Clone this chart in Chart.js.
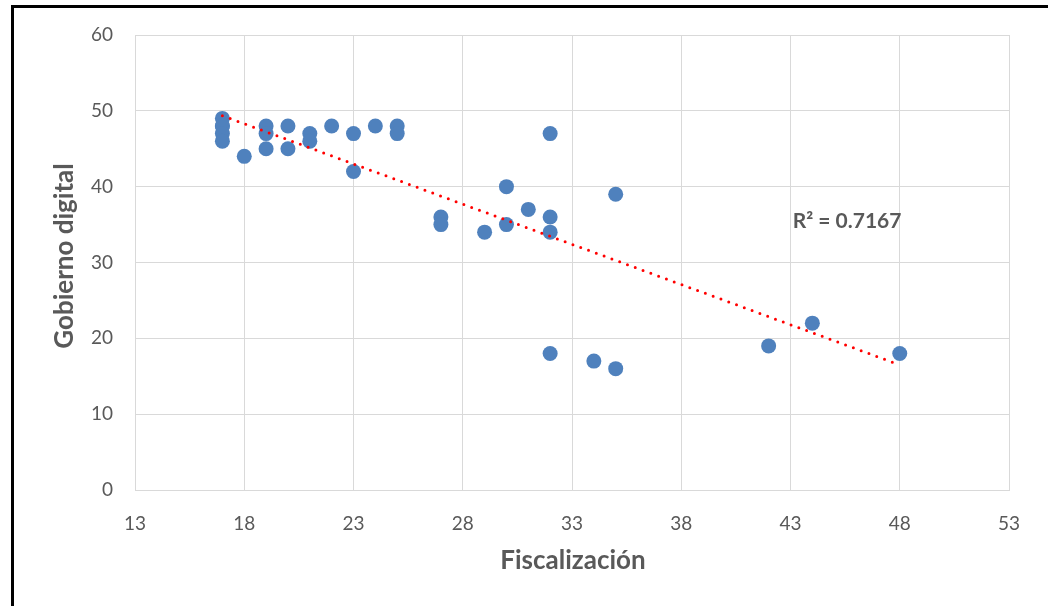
<!DOCTYPE html>
<html>
<head>
<meta charset="utf-8">
<script src="https://cdn.jsdelivr.net/npm/chart.js@4"></script>
<style>
    html, body { margin: 0; padding: 0; background: #fff; }
    #wrap { position: relative; width: 1048px; height: 606px; }
</style>
</head>
<body>
<div id="wrap"><canvas id="chart" width="1048" height="606"></canvas></div>
<script>
// Fiscalización (x) vs Gobierno digital (y)
const fiscalizacion = [17, 17, 17, 17, 17, 18, 19, 19, 19, 20, 20, 21, 21, 22, 23, 23, 24, 25, 25,
    27, 27, 29, 30, 30, 31, 32, 32, 32, 32, 34, 35, 35, 42, 44, 48];
const gobiernoDigital = [49, 48, 48, 47, 46, 44, 48, 47, 45, 48, 45, 47, 46, 48, 47, 42, 48, 48, 47,
    36, 35, 34, 40, 35, 37, 47, 36, 34, 18, 17, 39, 16, 19, 22, 18];

// linear trendline ends
const trendX = [17, 48];
const trendY = [49.36, 16.5];
const rSquared = 'R² = 0.7167';

const xTicks = [13, 18, 23, 28, 33, 38, 43, 48, 53];
const yTicks = [0, 10, 20, 30, 40, 50, 60];

const textColor = '#595959';
const gridColor = '#d9d9d9';
const fontFamily = 'Lato, "Open Sans", sans-serif';

const pts = fiscalizacion.map((x, i) => ({ x: x, y: gobiernoDigital[i] }));
const trend = trendX.map((x, i) => ({ x: x, y: trendY[i] }));

// white background + black frame lines (top & left) + axis titles + R² label
const extras = {
    id: 'extras',
    beforeDraw(chart) {
        const c = chart.ctx;
        c.save();
        c.fillStyle = '#fff';
        c.fillRect(0, 0, chart.width, chart.height);
        c.fillStyle = '#000';
        c.fillRect(11, 5, chart.width - 11, 3);
        c.fillRect(11, 5, 3, chart.height - 5);
        c.restore();
    },
    afterDraw(chart) {
        const c = chart.ctx;
        const xs = chart.scales.x, ys = chart.scales.y;
        c.save();
        c.fillStyle = textColor;
        c.font = 'bold 26px ' + fontFamily;
        c.textAlign = 'center';
        c.textBaseline = 'middle';
        c.fillText('Fiscalización', 573, 561);
        c.translate(65, 256);
        c.rotate(-Math.PI / 2);
        c.fillText('Gobierno digital', 0, 0);
        c.restore();

        c.save();
        c.fillStyle = textColor;
        c.font = 'bold 21px ' + fontFamily;
        c.textAlign = 'left';
        c.textBaseline = 'middle';
        c.fillText(rSquared, xs.getPixelForValue(43.1), ys.getPixelForValue(35.45));
        c.restore();
    }
};

new Chart(document.getElementById('chart'), {
    type: 'scatter',
    data: {
        datasets: [
            {
                type: 'line',
                label: 'Lineal',
                data: trend,
                borderColor: '#ff0000',
                borderWidth: 3,
                borderDash: [0, 8.3],
                borderCapStyle: 'round',
                pointRadius: 0,
                fill: false,
                order: 0
            },
            {
                label: 'Gobierno digital',
                data: pts,
                backgroundColor: '#4f81bd',
                borderWidth: 0,
                pointRadius: 7.5,
                pointHoverRadius: 7.5,
                order: 1
            }
        ]
    },
    plugins: [extras],
    options: {
        responsive: false,
        animation: false,
        events: [],
        layout: { padding: { top: 35, right: 39, left: 0, bottom: 0 } },
        plugins: {
            legend: { display: false },
            tooltip: { enabled: false }
        },
        scales: {
            x: {
                type: 'linear',
                min: xTicks[0],
                max: xTicks[xTicks.length - 1],
                afterBuildTicks: s => { s.ticks = xTicks.map(v => ({ value: v })); },
                afterFit: s => { s.height = 116; },
                grid: { color: gridColor, lineWidth: 1, drawTicks: false },
                border: { color: gridColor, width: 1 },
                ticks: {
                    color: textColor,
                    font: { family: fontFamily, size: 19 },
                    padding: 22,
                    maxRotation: 0
                }
            },
            y: {
                type: 'linear',
                min: yTicks[0],
                max: yTicks[yTicks.length - 1],
                afterBuildTicks: s => { s.ticks = yTicks.map(v => ({ value: v })); },
                afterFit: s => { s.width = 135; },
                grid: { color: gridColor, lineWidth: 1, drawTicks: false },
                border: { color: gridColor, width: 1 },
                ticks: {
                    color: textColor,
                    font: { family: fontFamily, size: 19 },
                    padding: 22
                }
            }
        }
    }
});
</script>
</body>
</html>
